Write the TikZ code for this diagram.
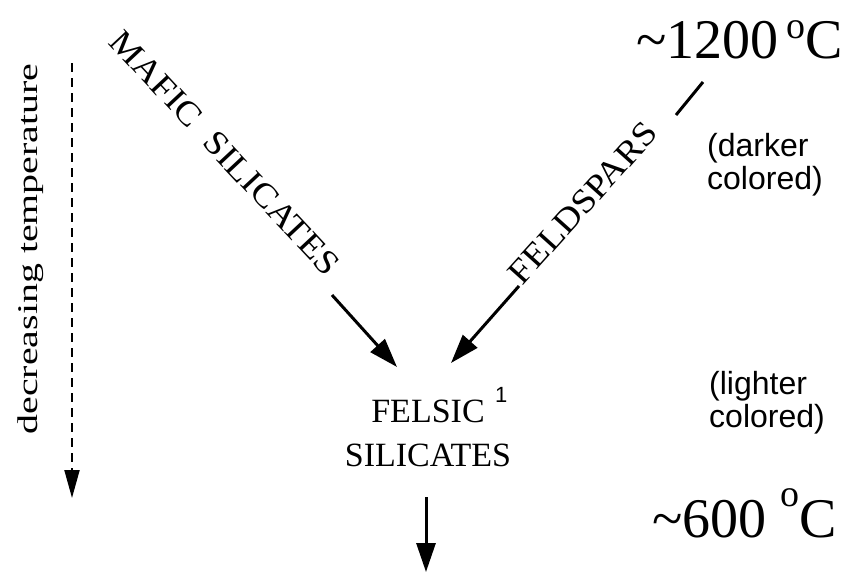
\documentclass[tikz,border=0pt]{standalone}
\usepackage{fontspec}
\setmainfont{Liberation Serif}
\newfontfamily\arialf{Liberation Sans}
\usetikzlibrary{arrows.meta}
\begin{document}
\begin{tikzpicture}[x=1pt,y=1pt,
  txt/.style={inner sep=0pt, font=\fontsize{34}{34}\selectfont},
  lbl/.style={inner sep=0pt, align=left, font=\arialf\fontsize{32}{33}\selectfont},
  flow/.style={line width=3pt, -{Triangle[length=29pt,width=19pt]}},
  temp/.style={inner sep=0pt, anchor=base west, font=\fontsize{56}{56}\selectfont}]
\useasboundingbox (0,0) rectangle (865,-573);
% coordinates
\coordinate (da) at (72,-63);
\coordinate (db) at (72,-498);
\coordinate (ma) at (332,-295);
\coordinate (mb) at (397,-367);
\coordinate (fa) at (519,-286);
\coordinate (fb) at (451,-363);
\coordinate (ft1) at (703,-82);
\coordinate (ft2) at (676,-115);
\coordinate (fd1) at (426,-497);
\coordinate (fd2) at (426,-572);
% texts
\node[txt, rotate=90] (dt) at (31,-249) {\fontsize{28.5}{28.5}\selectfont\scalebox{1.4}[1]{decreasing temperature}};
\node[txt, rotate=-47] (mafic) at (225,-153) {\scalebox{1.1}[1]{MAFIC\ \ SILICATES}};
\node[txt, rotate=48] (feld) at (583,-203) {\scalebox{1.1}[1]{FELDSPARS}};
\node[txt, anchor=base] (felsic) at (428,-422) {FELSIC};
\node[txt, anchor=base] (sil) at (428,-466) {SILICATES};
\node[anchor=base west, inner sep=0pt, font=\arialf\fontsize{22}{22}\selectfont] (sup) at (495,-402) {1};
\node[temp] (t1200) at (636,-58) {\textasciitilde1200\hspace{8pt}\raisebox{20pt}{\fontsize{38}{38}\selectfont o}C};
\node[temp] (t600) at (652,-537) {\textasciitilde600 \raisebox{31pt}{\fontsize{38}{38}\selectfont o}C};
\node[lbl, anchor=north west] (dark) at (707,-133) {(darker\\colored)};
\node[lbl, anchor=north west] (light) at (709,-371) {(lighter\\colored)};
% connectors
\draw[line width=2pt, dash pattern=on 9pt off 6pt, -{Triangle[length=28pt,width=15pt]}] (da) -- (db);
\draw[flow] (ma) -- (mb);
\draw[flow] (fa) -- (fb);
\draw[line width=3pt] (ft1) -- (ft2);
\draw[flow] (fd1) -- (fd2);
\end{tikzpicture}
\end{document}
